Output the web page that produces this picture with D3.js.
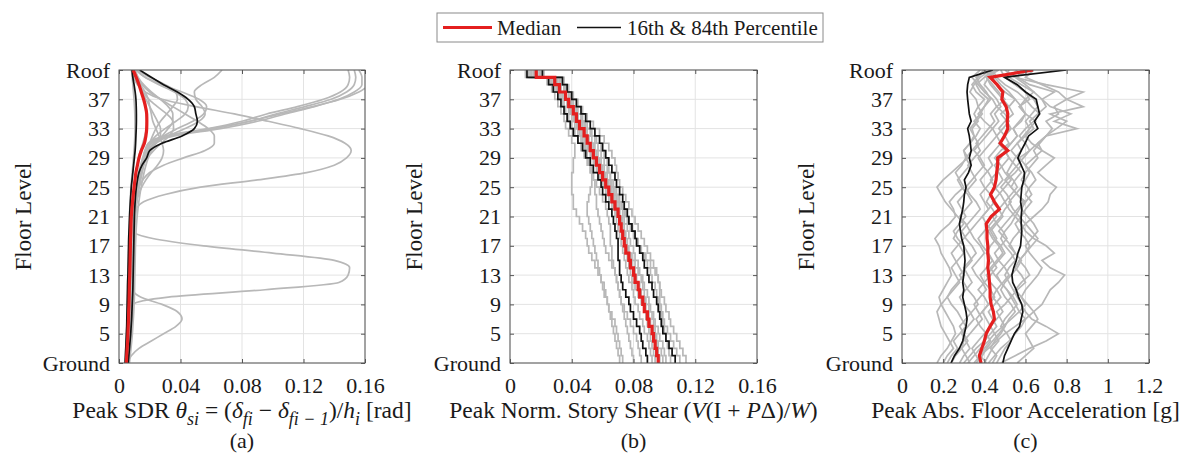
<!DOCTYPE html>
<html>
<head>
<meta charset="utf-8">
<script src="https://cdn.jsdelivr.net/npm/d3@7"></script>
<style>
body { margin: 0; background: #fff; }
svg, svg text { font-family: "Liberation Serif", "Times New Roman", Times, serif; }
</style>
</head>
<body>
<svg width="1182" height="464" font-family="Liberation Serif, Times New Roman, serif"></svg>
<script>
// floor levels, Ground = 1, Roof = 41
const levels = [1,2,3,4,5,6,7,8,9,10,11,12,13,14,15,16,17,18,19,20,21,22,23,24,25,26,27,28,29,30,31,32,33,34,35,36,37,38,39,40,41];
// story i spans level i to i+1
const stories = [1,2,3,4,5,6,7,8,9,10,11,12,13,14,15,16,17,18,19,20,21,22,23,24,25,26,27,28,29,30,31,32,33,34,35,36,37,38,39,40];
const levelTicks = [1,5,9,13,17,21,25,29,33,37,41];
const levelTickLabels = ["Ground","5","9","13","17","21","25","29","33","37","Roof"];
const sdrTicks = [0,0.04,0.08,0.12,0.16];
const shearTicks = [0,0.04,0.08,0.12,0.16];
const pfaTicks = [0,0.2,0.4,0.6,0.8,1,1.2];

// (a) peak story drift ratio, by level
const sdrMedian = [0.0048,0.005,0.0053,0.0056,0.0058,0.006,0.0062,0.0063,0.0065,0.0066,0.0067,0.0068,0.007,0.0071,0.0072,0.0073,0.0074,0.0075,0.0077,0.0078,0.008,0.0084,0.0088,0.0093,0.0098,0.0104,0.011,0.012,0.013,0.0145,0.0165,0.0175,0.018,0.0181,0.018,0.0172,0.016,0.0145,0.013,0.0112,0.0092];
const sdrP16 = [0.004,0.0042,0.0044,0.0046,0.0048,0.005,0.0051,0.0052,0.0053,0.0054,0.0055,0.0056,0.0058,0.0059,0.006,0.0061,0.0062,0.0063,0.0065,0.0067,0.0069,0.0071,0.0074,0.0077,0.008,0.0085,0.009,0.0095,0.01,0.0105,0.0108,0.011,0.0112,0.0113,0.0113,0.0112,0.011,0.0105,0.0098,0.009,0.0085];
const sdrP84 = [0.006,0.0064,0.0068,0.0072,0.0076,0.0079,0.0082,0.0084,0.0086,0.0088,0.009,0.0091,0.0092,0.0093,0.0094,0.0095,0.0096,0.0097,0.0098,0.0099,0.01,0.0102,0.0105,0.0108,0.0113,0.012,0.013,0.015,0.018,0.02,0.028,0.041,0.049,0.051,0.05,0.049,0.045,0.038,0.029,0.021,0.0135];
const sdrRecords = [
  [0.005,0.0055,0.006,0.0062,0.0065,0.0068,0.007,0.0072,0.009,0.032,0.095,0.143,0.149,0.15,0.14,0.1,0.055,0.022,0.009,0.0085,0.0086,0.0088,0.009,0.0094,0.0099,0.0105,0.011,0.0118,0.0127,0.014,0.0155,0.0168,0.0178,0.0183,0.0182,0.0176,0.0165,0.015,0.0132,0.0115,0.0098],
  [0.0055,0.008,0.013,0.021,0.029,0.037,0.041,0.038,0.028,0.014,0.009,0.0085,0.0088,0.009,0.0092,0.0094,0.0096,0.0098,0.01,0.0103,0.0106,0.011,0.0115,0.012,0.0126,0.0133,0.0142,0.0158,0.0185,0.0225,0.0275,0.0325,0.0355,0.035,0.031,0.025,0.0195,0.0155,0.0125,0.0105,0.009],
  [0.0045,0.0049,0.0052,0.0055,0.0057,0.006,0.0062,0.0064,0.0066,0.0068,0.007,0.0071,0.0072,0.0073,0.0074,0.0075,0.0076,0.0078,0.008,0.0082,0.0086,0.011,0.016,0.03,0.053,0.09,0.122,0.14,0.148,0.151,0.147,0.136,0.118,0.097,0.075,0.05,0.028,0.017,0.012,0.0095,0.008],
  [0.0058,0.0062,0.0066,0.007,0.0073,0.0076,0.0079,0.0081,0.0083,0.0085,0.0086,0.0087,0.0088,0.0089,0.009,0.0091,0.0092,0.0094,0.0096,0.0099,0.0103,0.0108,0.0114,0.0121,0.013,0.0138,0.0145,0.0152,0.016,0.017,0.019,0.03,0.058,0.08,0.096,0.116,0.133,0.144,0.149,0.15,0.149],
  [0.0048,0.0052,0.0056,0.0059,0.0062,0.0065,0.0067,0.0069,0.0071,0.0073,0.0074,0.0076,0.0077,0.0078,0.0079,0.008,0.0082,0.0084,0.0086,0.0089,0.0093,0.0098,0.0104,0.0112,0.0121,0.013,0.0138,0.0146,0.0155,0.0168,0.0195,0.034,0.062,0.085,0.102,0.121,0.138,0.148,0.153,0.154,0.153],
  [0.0052,0.0057,0.0061,0.0065,0.0068,0.0071,0.0073,0.0075,0.0077,0.0079,0.008,0.0081,0.0082,0.0083,0.0084,0.0085,0.0087,0.0089,0.0091,0.0094,0.0098,0.0103,0.0109,0.0116,0.0125,0.0134,0.0143,0.0152,0.0162,0.0178,0.021,0.036,0.066,0.09,0.108,0.127,0.143,0.153,0.158,0.158,0.156],
  [0.0055,0.006,0.0064,0.0068,0.0071,0.0074,0.0077,0.0079,0.0081,0.0082,0.0083,0.0084,0.0085,0.0086,0.0087,0.0088,0.009,0.0092,0.0095,0.0098,0.0102,0.0107,0.0113,0.0121,0.013,0.014,0.015,0.016,0.017,0.0185,0.02,0.032,0.06,0.085,0.105,0.126,0.144,0.156,0.163,0.168,0.17],
  [0.0062,0.0067,0.0072,0.0076,0.008,0.0083,0.0086,0.0088,0.009,0.0092,0.0093,0.0094,0.0095,0.0096,0.0097,0.0098,0.0099,0.01,0.0102,0.0104,0.0107,0.011,0.0113,0.0117,0.0122,0.0128,0.0136,0.0148,0.0165,0.019,0.024,0.032,0.043,0.052,0.056,0.054,0.05,0.049,0.054,0.062,0.067],
  [0.0047,0.0051,0.0055,0.0058,0.0061,0.0064,0.0066,0.0068,0.007,0.0072,0.0074,0.0075,0.0076,0.0077,0.0078,0.0079,0.008,0.0082,0.0084,0.0087,0.009,0.0095,0.0102,0.0112,0.0128,0.0155,0.02,0.029,0.042,0.056,0.062,0.062,0.058,0.051,0.043,0.035,0.027,0.02,0.015,0.012,0.0105],
  [0.0053,0.0058,0.0063,0.0067,0.007,0.0073,0.0075,0.0077,0.0079,0.0081,0.0082,0.0083,0.0084,0.0085,0.0086,0.0087,0.0088,0.009,0.0092,0.0095,0.0098,0.0102,0.0107,0.0113,0.012,0.0128,0.0137,0.0148,0.0162,0.0185,0.0225,0.029,0.038,0.048,0.055,0.057,0.052,0.041,0.028,0.017,0.0115],
  [0.0068,0.0073,0.0078,0.0083,0.0087,0.009,0.0093,0.0096,0.0098,0.01,0.0101,0.0102,0.0103,0.0104,0.0105,0.0106,0.0107,0.0109,0.0111,0.0114,0.0118,0.0123,0.0129,0.0136,0.0144,0.0153,0.0163,0.0175,0.019,0.021,0.024,0.028,0.032,0.035,0.035,0.032,0.027,0.021,0.016,0.0125,0.0105],
  [0.0044,0.0047,0.005,0.0053,0.0055,0.0057,0.0059,0.0061,0.0063,0.0064,0.0065,0.0066,0.0067,0.0068,0.0069,0.007,0.0071,0.0073,0.0075,0.0078,0.0082,0.0087,0.0093,0.01,0.0108,0.0117,0.0127,0.014,0.0155,0.0175,0.02,0.024,0.03,0.037,0.043,0.045,0.043,0.036,0.026,0.017,0.011],
  [0.0058,0.0062,0.0066,0.007,0.0073,0.0076,0.0078,0.008,0.0082,0.0083,0.0084,0.0085,0.0086,0.0087,0.0088,0.0089,0.009,0.0092,0.0094,0.0097,0.01,0.0104,0.0109,0.0115,0.0122,0.013,0.014,0.0155,0.0175,0.0205,0.024,0.027,0.027,0.025,0.0225,0.02,0.0175,0.015,0.013,0.0112,0.0097],
  [0.0038,0.0041,0.0044,0.0047,0.0049,0.0051,0.0053,0.0055,0.0056,0.0057,0.0058,0.0059,0.006,0.0061,0.0062,0.0063,0.0064,0.0065,0.0066,0.0067,0.0068,0.007,0.0072,0.0075,0.0078,0.0082,0.0086,0.009,0.0094,0.0098,0.0101,0.0103,0.0104,0.0104,0.0103,0.0101,0.0098,0.0094,0.009,0.0086,0.0082],
  [0.0056,0.006,0.0064,0.0068,0.0072,0.0075,0.0078,0.008,0.0082,0.0084,0.0086,0.0087,0.0088,0.0089,0.009,0.0091,0.0093,0.0095,0.0097,0.01,0.0104,0.0109,0.0115,0.0122,0.013,0.0139,0.0149,0.016,0.0172,0.0185,0.02,0.0218,0.024,0.027,0.031,0.035,0.038,0.037,0.03,0.02,0.012],
  [0.005,0.0054,0.0058,0.0061,0.0064,0.0067,0.0069,0.0071,0.0073,0.0075,0.0076,0.0077,0.0078,0.0079,0.008,0.0081,0.0083,0.0085,0.0088,0.0092,0.0097,0.0104,0.0114,0.0128,0.0148,0.0175,0.021,0.025,0.028,0.029,0.028,0.026,0.024,0.022,0.021,0.02,0.019,0.017,0.014,0.011,0.009]
];

// (b) peak normalised story shear, by story
const shearMedian = [0.096,0.095,0.094,0.093,0.092,0.09,0.089,0.087,0.086,0.084,0.083,0.081,0.08,0.078,0.077,0.075,0.074,0.073,0.072,0.071,0.07,0.068,0.066,0.064,0.062,0.06,0.058,0.056,0.054,0.052,0.05,0.048,0.045,0.043,0.041,0.038,0.036,0.032,0.029,0.017];
const shearP16 = [0.089,0.088,0.086,0.085,0.084,0.082,0.08,0.078,0.077,0.075,0.073,0.072,0.071,0.071,0.07,0.07,0.07,0.069,0.068,0.067,0.066,0.064,0.062,0.06,0.059,0.057,0.054,0.052,0.049,0.047,0.044,0.041,0.039,0.037,0.035,0.033,0.031,0.028,0.025,0.011];
const shearP84 = [0.107,0.105,0.103,0.101,0.099,0.098,0.097,0.096,0.095,0.093,0.092,0.09,0.089,0.087,0.086,0.084,0.082,0.081,0.079,0.077,0.076,0.074,0.073,0.071,0.069,0.068,0.066,0.064,0.062,0.06,0.058,0.055,0.052,0.049,0.046,0.043,0.04,0.037,0.034,0.021];
const shearRecords = [
  [0.071,0.07,0.069,0.068,0.067,0.066,0.065,0.064,0.063,0.062,0.061,0.059,0.057,0.055,0.053,0.051,0.05,0.049,0.047,0.045,0.043,0.041,0.041,0.04,0.04,0.04,0.041,0.041,0.042,0.042,0.04,0.038,0.036,0.035,0.033,0.031,0.029,0.027,0.024,0.012],
  [0.073,0.072,0.071,0.07,0.069,0.068,0.066,0.064,0.063,0.061,0.06,0.059,0.058,0.057,0.056,0.055,0.054,0.053,0.052,0.051,0.05,0.05,0.051,0.052,0.053,0.053,0.052,0.051,0.05,0.049,0.047,0.045,0.043,0.041,0.039,0.037,0.034,0.031,0.027,0.015],
  [0.114,0.112,0.11,0.108,0.106,0.104,0.103,0.101,0.1,0.098,0.097,0.096,0.095,0.093,0.091,0.089,0.087,0.085,0.083,0.081,0.079,0.077,0.075,0.073,0.071,0.07,0.069,0.068,0.066,0.064,0.061,0.058,0.054,0.05,0.047,0.044,0.041,0.038,0.035,0.022],
  [0.101,0.1,0.099,0.097,0.096,0.094,0.093,0.091,0.09,0.089,0.087,0.086,0.084,0.083,0.081,0.08,0.078,0.077,0.076,0.074,0.073,0.071,0.069,0.067,0.065,0.063,0.061,0.059,0.057,0.055,0.053,0.05,0.048,0.046,0.043,0.041,0.038,0.035,0.031,0.019],
  [0.092,0.091,0.09,0.089,0.087,0.086,0.084,0.083,0.081,0.08,0.079,0.077,0.076,0.075,0.074,0.073,0.072,0.071,0.07,0.069,0.068,0.066,0.064,0.062,0.06,0.058,0.056,0.054,0.052,0.05,0.048,0.046,0.044,0.042,0.039,0.037,0.034,0.031,0.028,0.016],
  [0.099,0.098,0.096,0.095,0.094,0.093,0.092,0.09,0.088,0.087,0.086,0.085,0.083,0.081,0.079,0.077,0.076,0.075,0.074,0.073,0.071,0.07,0.068,0.066,0.064,0.062,0.06,0.058,0.056,0.054,0.051,0.049,0.047,0.044,0.042,0.039,0.036,0.033,0.03,0.018],
  [0.11,0.108,0.106,0.104,0.102,0.1,0.099,0.097,0.096,0.095,0.094,0.092,0.091,0.089,0.087,0.085,0.083,0.081,0.079,0.077,0.075,0.073,0.071,0.069,0.067,0.065,0.063,0.061,0.059,0.057,0.055,0.052,0.049,0.046,0.043,0.04,0.038,0.035,0.032,0.02],
  [0.085,0.084,0.083,0.082,0.08,0.078,0.076,0.074,0.072,0.071,0.07,0.069,0.068,0.067,0.066,0.066,0.065,0.065,0.065,0.064,0.063,0.062,0.06,0.058,0.056,0.054,0.052,0.05,0.048,0.046,0.044,0.042,0.04,0.038,0.036,0.034,0.032,0.029,0.026,0.013],
  [0.104,0.103,0.102,0.101,0.1,0.099,0.098,0.098,0.097,0.097,0.097,0.096,0.094,0.091,0.088,0.085,0.082,0.08,0.078,0.076,0.074,0.072,0.07,0.068,0.066,0.065,0.064,0.063,0.061,0.059,0.056,0.053,0.05,0.047,0.044,0.041,0.039,0.036,0.033,0.02],
  [0.094,0.093,0.092,0.091,0.09,0.089,0.088,0.087,0.085,0.083,0.081,0.079,0.078,0.077,0.076,0.075,0.074,0.073,0.072,0.071,0.069,0.067,0.065,0.063,0.061,0.059,0.057,0.055,0.053,0.051,0.049,0.047,0.045,0.043,0.04,0.038,0.035,0.032,0.029,0.017],
  [0.08,0.079,0.078,0.077,0.076,0.075,0.074,0.073,0.072,0.071,0.07,0.069,0.068,0.066,0.064,0.062,0.061,0.06,0.059,0.058,0.057,0.056,0.056,0.055,0.055,0.054,0.053,0.052,0.05,0.048,0.046,0.044,0.042,0.04,0.038,0.035,0.033,0.03,0.027,0.014],
  [0.097,0.096,0.095,0.094,0.093,0.091,0.09,0.088,0.087,0.085,0.084,0.082,0.081,0.079,0.078,0.076,0.075,0.074,0.073,0.072,0.071,0.069,0.067,0.065,0.063,0.061,0.059,0.057,0.055,0.053,0.051,0.049,0.046,0.044,0.041,0.039,0.036,0.033,0.03,0.01]
];

// (c) peak absolute floor acceleration [g], by level
const pfaMedian = [0.384,0.376,0.388,0.4,0.409,0.428,0.449,0.444,0.433,0.428,0.428,0.425,0.422,0.417,0.42,0.417,0.417,0.413,0.413,0.409,0.433,0.473,0.449,0.43,0.449,0.457,0.46,0.465,0.465,0.514,0.477,0.498,0.514,0.511,0.514,0.506,0.485,0.49,0.462,0.428,0.636];
const pfaP16 = [0.238,0.255,0.279,0.295,0.303,0.311,0.316,0.311,0.303,0.295,0.3,0.295,0.3,0.303,0.306,0.303,0.3,0.29,0.284,0.279,0.287,0.295,0.3,0.303,0.311,0.303,0.323,0.336,0.327,0.336,0.332,0.327,0.319,0.336,0.327,0.323,0.319,0.316,0.319,0.327,0.441];
const pfaP84 = [0.49,0.498,0.514,0.53,0.546,0.571,0.579,0.587,0.582,0.566,0.555,0.538,0.534,0.543,0.555,0.563,0.576,0.579,0.582,0.579,0.579,0.582,0.576,0.579,0.582,0.592,0.595,0.579,0.563,0.579,0.598,0.615,0.66,0.644,0.668,0.66,0.652,0.6,0.56,0.498,0.798];
const pfaRecords = [
  [0.17,0.19,0.22,0.24,0.26,0.25,0.23,0.21,0.19,0.18,0.2,0.22,0.24,0.23,0.21,0.19,0.18,0.16,0.19,0.23,0.26,0.25,0.23,0.26,0.3,0.28,0.26,0.29,0.31,0.3,0.33,0.35,0.34,0.37,0.35,0.37,0.36,0.33,0.35,0.38,0.43],
  [0.42,0.45,0.48,0.52,0.55,0.58,0.6,0.57,0.55,0.53,0.56,0.6,0.58,0.55,0.57,0.6,0.62,0.6,0.57,0.55,0.58,0.6,0.63,0.6,0.62,0.65,0.63,0.6,0.64,0.68,0.66,0.7,0.75,0.8,0.72,0.88,0.8,0.88,0.7,0.55,0.62],
  [0.35,0.38,0.42,0.46,0.5,0.55,0.6,0.64,0.68,0.7,0.72,0.76,0.79,0.72,0.68,0.74,0.7,0.64,0.6,0.58,0.55,0.57,0.6,0.56,0.53,0.55,0.58,0.55,0.52,0.5,0.53,0.56,0.54,0.58,0.6,0.57,0.62,0.6,0.55,0.5,0.48],
  [0.48,0.55,0.62,0.7,0.76,0.7,0.63,0.6,0.58,0.56,0.54,0.52,0.5,0.52,0.55,0.53,0.5,0.48,0.5,0.53,0.55,0.52,0.5,0.53,0.56,0.54,0.51,0.53,0.55,0.58,0.56,0.6,0.64,0.62,0.66,0.7,0.68,0.64,0.6,0.55,0.5],
  [0.38,0.36,0.34,0.37,0.4,0.43,0.41,0.39,0.42,0.45,0.43,0.4,0.38,0.41,0.44,0.42,0.39,0.37,0.4,0.43,0.46,0.44,0.41,0.43,0.46,0.49,0.47,0.45,0.48,0.5,0.47,0.5,0.53,0.51,0.48,0.52,0.55,0.5,0.46,0.44,0.4],
  [0.28,0.3,0.33,0.31,0.29,0.32,0.35,0.33,0.3,0.28,0.31,0.34,0.32,0.3,0.33,0.36,0.34,0.31,0.29,0.32,0.35,0.38,0.36,0.33,0.31,0.34,0.37,0.4,0.38,0.35,0.38,0.41,0.44,0.4,0.37,0.4,0.43,0.41,0.38,0.36,0.4],
  [0.46,0.48,0.5,0.53,0.51,0.48,0.5,0.53,0.56,0.54,0.51,0.48,0.46,0.49,0.52,0.55,0.53,0.5,0.47,0.5,0.53,0.56,0.59,0.56,0.53,0.5,0.53,0.56,0.59,0.62,0.6,0.57,0.6,0.64,0.67,0.63,0.6,0.64,0.58,0.52,0.56],
  [0.2,0.22,0.25,0.23,0.21,0.19,0.18,0.17,0.19,0.22,0.25,0.28,0.26,0.24,0.27,0.3,0.28,0.25,0.27,0.3,0.27,0.24,0.21,0.19,0.17,0.2,0.24,0.28,0.32,0.3,0.33,0.36,0.38,0.35,0.38,0.4,0.42,0.38,0.36,0.4,0.44],
  [0.4,0.42,0.44,0.47,0.45,0.43,0.46,0.49,0.47,0.44,0.46,0.49,0.52,0.5,0.47,0.45,0.48,0.51,0.49,0.46,0.44,0.47,0.5,0.48,0.45,0.43,0.46,0.49,0.52,0.5,0.53,0.56,0.54,0.57,0.6,0.58,0.55,0.52,0.48,0.45,0.43],
  [0.32,0.35,0.38,0.42,0.45,0.49,0.53,0.57,0.6,0.58,0.55,0.58,0.62,0.6,0.57,0.6,0.63,0.66,0.63,0.6,0.64,0.68,0.71,0.72,0.75,0.7,0.66,0.7,0.74,0.68,0.63,0.6,0.62,0.65,0.6,0.57,0.6,0.56,0.5,0.46,0.44],
  [0.33,0.31,0.29,0.3,0.33,0.36,0.39,0.37,0.35,0.38,0.41,0.39,0.36,0.34,0.37,0.4,0.38,0.35,0.33,0.36,0.39,0.42,0.4,0.38,0.41,0.44,0.42,0.39,0.37,0.4,0.43,0.46,0.44,0.47,0.45,0.48,0.46,0.43,0.4,0.42,0.46],
  [0.36,0.39,0.41,0.44,0.47,0.5,0.48,0.46,0.5,0.53,0.51,0.48,0.45,0.43,0.46,0.49,0.47,0.44,0.42,0.45,0.48,0.5,0.53,0.51,0.48,0.51,0.55,0.58,0.56,0.53,0.56,0.59,0.62,0.6,0.63,0.66,0.64,0.6,0.55,0.5,0.52],
  [0.44,0.46,0.43,0.45,0.48,0.5,0.52,0.55,0.53,0.5,0.48,0.5,0.53,0.56,0.58,0.55,0.52,0.54,0.57,0.6,0.57,0.54,0.52,0.55,0.58,0.6,0.62,0.6,0.57,0.62,0.66,0.7,0.85,0.74,0.82,0.72,0.68,0.74,0.62,0.56,0.58],
  [0.24,0.26,0.29,0.32,0.3,0.28,0.31,0.34,0.37,0.35,0.32,0.3,0.28,0.31,0.34,0.32,0.3,0.27,0.25,0.28,0.31,0.29,0.27,0.3,0.33,0.36,0.34,0.32,0.35,0.38,0.36,0.39,0.42,0.45,0.43,0.46,0.44,0.4,0.37,0.34,0.38],
  [0.3,0.33,0.36,0.4,0.43,0.46,0.44,0.42,0.45,0.48,0.46,0.43,0.41,0.44,0.47,0.5,0.48,0.45,0.43,0.46,0.49,0.47,0.44,0.47,0.5,0.53,0.5,0.48,0.45,0.48,0.52,0.5,0.47,0.5,0.54,0.52,0.49,0.46,0.43,0.41,0.47],
  [0.56,0.6,0.64,0.62,0.6,0.63,0.66,0.64,0.61,0.58,0.6,0.63,0.66,0.68,0.65,0.62,0.6,0.63,0.66,0.64,0.61,0.58,0.6,0.63,0.61,0.58,0.6,0.63,0.66,0.64,0.67,0.7,0.73,0.7,0.76,0.74,0.8,0.76,0.68,0.6,0.64],
  [0.22,0.24,0.27,0.25,0.28,0.31,0.29,0.27,0.24,0.22,0.24,0.27,0.3,0.28,0.26,0.24,0.27,0.3,0.33,0.31,0.28,0.31,0.34,0.32,0.29,0.27,0.3,0.33,0.31,0.34,0.37,0.35,0.33,0.36,0.39,0.37,0.4,0.36,0.34,0.37,0.4],
  [0.41,0.38,0.4,0.43,0.41,0.38,0.36,0.39,0.42,0.4,0.37,0.4,0.43,0.46,0.44,0.41,0.43,0.46,0.44,0.41,0.39,0.42,0.45,0.43,0.4,0.38,0.41,0.44,0.42,0.45,0.48,0.46,0.49,0.52,0.5,0.46,0.5,0.47,0.44,0.41,0.45]
];

const FONT = "Liberation Serif, Times New Roman, serif";
const svg = d3.select("svg");
const plotTop = 70, plotBottom = 363;
const y = d3.scaleLinear().domain([1, 41]).range([plotBottom, plotTop]);

// level profile -> points, story profile -> staircase points
function levelPoints(vals) {
    return vals.map((v, i) => [v, levels[i]]);
}
function storyPoints(vals) {
    const pts = [];
    vals.forEach((v, i) => {
        pts.push([v, stories[i]]);
        pts.push([v, stories[i] + 1]);
    });
    return pts;
}

function drawPanel(p, idx) {
    const x = d3.scaleLinear().domain(p.domain).range([p.left, p.right]);
    const g = svg.append("g");

    // grid
    g.selectAll(".gx").data(p.ticks).enter().append("line")
        .attr("x1", d => x(d)).attr("x2", d => x(d))
        .attr("y1", plotTop).attr("y2", plotBottom)
        .attr("stroke", "#e3e3e3").attr("stroke-width", 1);
    g.selectAll(".gy").data(levelTicks).enter().append("line")
        .attr("x1", p.left).attr("x2", p.right)
        .attr("y1", d => y(d)).attr("y2", d => y(d))
        .attr("stroke", "#e3e3e3").attr("stroke-width", 1);

    const clipId = "clip" + idx;
    svg.append("clipPath").attr("id", clipId).append("rect")
        .attr("x", p.left).attr("y", plotTop)
        .attr("width", p.right - p.left).attr("height", plotBottom - plotTop);

    const line = d3.line().x(d => x(d[0])).y(d => y(d[1])).curve(p.curve);
    const toPts = p.step ? storyPoints : levelPoints;
    const plot = g.append("g").attr("clip-path", `url(#${clipId})`);

    plot.selectAll(".rec").data(p.records).enter().append("path")
        .attr("d", d => line(toPts(d)))
        .attr("fill", "none").attr("stroke", "#b8b8b8").attr("stroke-width", 1.7);

    [p.p16, p.p84].forEach(s => {
        plot.append("path").attr("d", line(toPts(s)))
            .attr("fill", "none").attr("stroke", "#111").attr("stroke-width", 1.7);
    });
    plot.append("path").attr("d", line(toPts(p.median)))
        .attr("fill", "none").attr("stroke", "#e41f1f").attr("stroke-width", 3.2);

    // axes, MATLAB style: inward ticks on all sides
    const axColor = "#555";
    const fmt = d => String(d);
    const bx = g.append("g").attr("transform", `translate(0,${plotBottom})`)
        .call(d3.axisBottom(x).tickValues(p.ticks).tickFormat(fmt).tickSizeInner(-4).tickSizeOuter(0).tickPadding(14));
    const tx = g.append("g").attr("transform", `translate(0,${plotTop})`)
        .call(d3.axisTop(x).tickValues(p.ticks).tickFormat("").tickSizeInner(-4).tickSizeOuter(0));
    const ly = g.append("g").attr("transform", `translate(${p.left},0)`)
        .call(d3.axisLeft(y).tickValues(levelTicks).tickFormat((d, i) => levelTickLabels[i]).tickSizeInner(-4).tickSizeOuter(0).tickPadding(9));
    const ry = g.append("g").attr("transform", `translate(${p.right},0)`)
        .call(d3.axisRight(y).tickValues(levelTicks).tickFormat("").tickSizeInner(-4).tickSizeOuter(0));
    [bx, tx, ly, ry].forEach(a => {
        a.attr("font-family", FONT).attr("font-size", 22).style("color", axColor);
        a.select(".domain").remove();
        a.selectAll("text").attr("fill", "#1a1a1a").attr("font-family", FONT);
    });

    g.append("rect")
        .attr("x", p.left).attr("y", plotTop)
        .attr("width", p.right - p.left).attr("height", plotBottom - plotTop)
        .attr("fill", "none").attr("stroke", axColor).attr("stroke-width", 1);

    // axis titles
    g.append("text")
        .attr("transform", `translate(${p.left - 88},${(plotTop + plotBottom) / 2}) rotate(-90)`)
        .attr("text-anchor", "middle").attr("font-size", 23).attr("fill", "#1a1a1a")
        .attr("font-family", FONT)
        .text("Floor Level");

    const t = g.append("text")
        .attr("x", (p.left + p.right) / 2).attr("y", 418)
        .attr("text-anchor", "middle").attr("font-size", 23.5).attr("fill", "#1a1a1a")
        .attr("font-family", FONT);
    p.title.forEach(s => {
        const ts = t.append("tspan").text(s.t);
        if (s.i) ts.attr("font-style", "italic");
        if (s.sub) ts.attr("dy", s.sub);
        if (s.sub > 0) ts.attr("font-size", 18);
    });

    g.append("text")
        .attr("x", (p.left + p.right) / 2).attr("y", 448)
        .attr("text-anchor", "middle").attr("font-size", 22).attr("fill", "#1a1a1a")
        .attr("font-family", FONT)
        .text(p.label);
}

const panels = [
    {
        left: 119, right: 365, domain: [0, 0.16], ticks: sdrTicks,
        records: sdrRecords, median: sdrMedian, p16: sdrP16, p84: sdrP84,
        curve: d3.curveMonotoneY, step: false, label: "(a)",
        title: [
            { t: "Peak SDR " }, { t: "θ", i: true }, { t: "si", i: true, sub: 7 },
            { t: " = (", sub: -7 }, { t: "δ", i: true }, { t: "fi", i: true, sub: 7 },
            { t: " − ", sub: -7 }, { t: "δ", i: true }, { t: "fi − 1", i: true, sub: 7 },
            { t: ")/", sub: -7 }, { t: "h", i: true }, { t: "i", i: true, sub: 7 },
            { t: " [rad]", sub: -7 }
        ]
    },
    {
        left: 510, right: 757, domain: [0, 0.16], ticks: shearTicks,
        records: shearRecords, median: shearMedian, p16: shearP16, p84: shearP84,
        curve: d3.curveLinear, step: true, label: "(b)",
        title: [
            { t: "Peak Norm. Story Shear (" }, { t: "V", i: true }, { t: "(I + " },
            { t: "P", i: true }, { t: "Δ)/" }, { t: "W", i: true }, { t: ")" }
        ]
    },
    {
        left: 902, right: 1149, domain: [0, 1.2], ticks: pfaTicks,
        records: pfaRecords, median: pfaMedian, p16: pfaP16, p84: pfaP84,
        curve: d3.curveLinear, step: false, label: "(c)",
        title: [{ t: "Peak Abs. Floor Acceleration [g]" }]
    }
];
panels.forEach(drawPanel);

// legend
const legend = svg.append("g").attr("font-family", FONT);
legend.append("rect").attr("x", 437).attr("y", 13).attr("width", 386).attr("height", 29)
    .attr("fill", "#fff").attr("stroke", "#8a8a8a").attr("stroke-width", 1);
legend.append("line").attr("x1", 443).attr("x2", 492).attr("y1", 27.5).attr("y2", 27.5)
    .attr("stroke", "#e41f1f").attr("stroke-width", 3.2);
legend.append("text").attr("x", 497).attr("y", 34.5).attr("font-size", 21).attr("fill", "#1a1a1a").text("Median");
legend.append("line").attr("x1", 577).attr("x2", 621).attr("y1", 27.5).attr("y2", 27.5)
    .attr("stroke", "#111").attr("stroke-width", 1.5);
legend.append("text").attr("x", 627).attr("y", 34.5).attr("font-size", 21).attr("fill", "#1a1a1a").text("16th & 84th Percentile");
</script>
</body>
</html>
